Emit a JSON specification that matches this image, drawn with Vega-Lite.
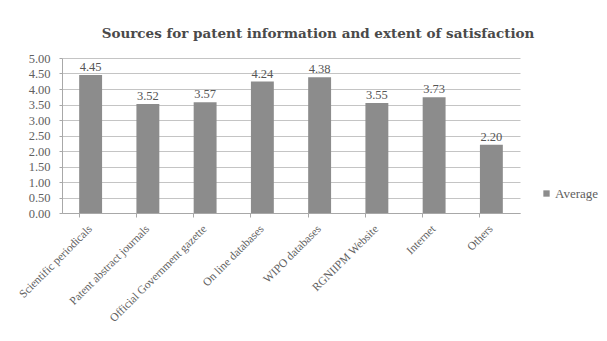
{
  "$schema": "https://vega.github.io/schema/vega-lite/v6.json",
  "width": 458,
  "height": 155,
  "autosize": {"type": "none"},
  "padding": {"left": 62, "top": 58, "right": 87, "bottom": 128},
  "background": "white",
  "title": {
    "text": "Sources for patent information and extent of satisfaction",
    "font": "DejaVu Serif",
    "fontSize": 13.5,
    "fontWeight": "bold",
    "color": "#4a4a4a",
    "anchor": "middle",
    "dx": 27,
    "offset": 12
  },
  "data": {
    "values": [
      {"source": "Scientific periodicals", "series": "Average", "value": 4.45},
      {"source": "Patent abstract journals", "series": "Average", "value": 3.52},
      {"source": "Official Government gazette", "series": "Average", "value": 3.57},
      {"source": "On line databases", "series": "Average", "value": 4.24},
      {"source": "WIPO databases", "series": "Average", "value": 4.38},
      {"source": "RGNIIPM Website", "series": "Average", "value": 3.55},
      {"source": "Internet", "series": "Average", "value": 3.73},
      {"source": "Others", "series": "Average", "value": 2.2}
    ]
  },
  "encoding": {
    "x": {
      "field": "source",
      "type": "nominal",
      "sort": null,
      "scale": {"paddingInner": 0.6, "paddingOuter": 0.3},
      "axis": {
        "title": null,
        "labelAngle": -45,
        "labelAlign": "right",
        "labelBaseline": "middle",
        "labelFont": "Liberation Serif",
        "labelFontSize": 11.5,
        "labelColor": "#606060",
        "labelPadding": 10,
        "bandPosition": 0,
        "tickSize": 4,
        "tickColor": "#a8a8a8",
        "domainColor": "#a8a8a8",
        "grid": false
      }
    },
    "y": {
      "field": "value",
      "type": "quantitative",
      "scale": {"domain": [0, 5], "nice": false},
      "axis": {
        "title": null,
        "values": [0, 0.5, 1, 1.5, 2, 2.5, 3, 3.5, 4, 4.5, 5],
        "format": ".2f",
        "labelFont": "Liberation Serif",
        "labelFontSize": 12.5,
        "labelColor": "#606060",
        "labelPadding": 9,
        "tickSize": 3,
        "tickColor": "#a8a8a8",
        "domain": true,
        "domainColor": "#a8a8a8",
        "grid": true,
        "gridColor": "#c4c4c4",
        "gridWidth": 1
      }
    }
  },
  "layer": [
    {
      "mark": {"type": "bar", "color": "#8c8c8c"},
      "encoding": {
        "color": {
          "field": "series",
          "type": "nominal",
          "scale": {"range": ["#8c8c8c"]},
          "legend": {
            "title": null,
            "orient": "none",
            "legendX": 478,
            "legendY": 129,
            "symbolType": "square",
            "symbolSize": 40,
            "labelFont": "Liberation Serif",
            "labelFontSize": 13,
            "labelColor": "#606060",
            "labelOffset": 2
          }
        }
      }
    },
    {
      "mark": {
        "type": "text",
        "baseline": "bottom",
        "dy": -1,
        "font": "Liberation Serif",
        "fontSize": 12.5,
        "color": "#555555"
      },
      "encoding": {
        "text": {"field": "value", "type": "quantitative", "format": ".2f"}
      }
    }
  ],
  "config": {
    "view": {"stroke": null}
  }
}
